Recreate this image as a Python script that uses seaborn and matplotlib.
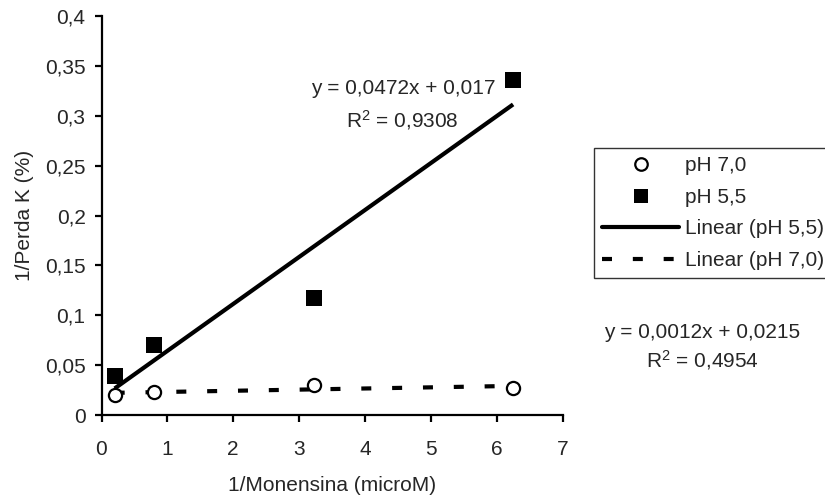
import matplotlib
matplotlib.use("Agg")
import matplotlib.pyplot as plt
from matplotlib.lines import Line2D
import seaborn as sns
import pandas as pd

# ---- data ----
x_monensina = [0.2, 0.8, 3.23, 6.25]
y_ph70 = [0.020, 0.023, 0.030, 0.027]
y_ph55 = [0.039, 0.070, 0.117, 0.336]
x_ticks = [0, 1, 2, 3, 4, 5, 6, 7]
x_tick_labels = ["0", "1", "2", "3", "4", "5", "6", "7"]
y_ticks = [0, 0.05, 0.1, 0.15, 0.2, 0.25, 0.3, 0.35, 0.4]
y_tick_labels = ["0", "0,05", "0,1", "0,15", "0,2", "0,25", "0,3", "0,35", "0,4"]
eq_ph55 = ["y = 0,0472x + 0,017", "R$^2$ = 0,9308"]
eq_ph70 = ["y = 0,0012x + 0,0215", "R$^2$ = 0,4954"]
x_label = "1/Monensina (microM)"
y_label = "1/Perda K (%)"
legend_labels = ["pH 7,0", "pH 5,5", "Linear (pH 5,5)", "Linear (pH 7,0)"]

df70 = pd.DataFrame({"x": x_monensina, "y": y_ph70})
df55 = pd.DataFrame({"x": x_monensina, "y": y_ph55})

sns.set_style("ticks")
plt.rcParams["font.family"] = ["Liberation Sans", "DejaVu Sans"]
plt.rcParams["mathtext.fontset"] = "custom"
plt.rcParams["mathtext.rm"] = "Liberation Sans"
plt.rcParams["mathtext.default"] = "regular"
FS = 15
plt.rcParams["font.size"] = FS

fig = plt.figure(figsize=(8.25, 4.98), dpi=100)
L, R, T, B = 101.5, 562.5, 16, 415
ax = fig.add_axes([L / 825, 1 - B / 498, (R - L) / 825, (B - T) / 498])

dash = (0, (2.4, 5))
sns.regplot(data=df55, x="x", y="y", ax=ax, scatter=False, ci=None, truncate=True,
            line_kws=dict(color="black", lw=3, solid_capstyle="butt", zorder=2))
sns.regplot(data=df70, x="x", y="y", ax=ax, scatter=False, ci=None, truncate=True,
            line_kws=dict(color="black", lw=3, linestyle=dash, dash_capstyle="butt", zorder=2))
sns.scatterplot(data=df55, x="x", y="y", ax=ax, marker="s", s=125, color="black",
                edgecolor="black", linewidth=0, zorder=3)
sns.scatterplot(data=df70, x="x", y="y", ax=ax, marker="o", s=90, facecolor="white",
                edgecolor="black", linewidth=1.6, zorder=3)

ax.set_xlim(0, 7)
ax.set_ylim(0, 0.4)
ax.set_xticks(x_ticks)
ax.set_xticklabels(x_tick_labels)
ax.set_yticks(y_ticks)
ax.set_yticklabels(y_tick_labels)
ax.set_xlabel(x_label, labelpad=12.5)
ax.set_ylabel(y_label, labelpad=8)
for s in ["top", "right"]:
    ax.spines[s].set_visible(False)
for s in ["left", "bottom"]:
    ax.spines[s].set_linewidth(1.6)
    ax.spines[s].set_color("black")
ax.tick_params(axis="both", direction="out", length=5, width=1.6, color="black",
               labelsize=FS)
ax.tick_params(axis="x", pad=13)
ax.tick_params(axis="y", pad=6.5)

# equations
fig.text(403 / 825, 1 - 89 / 498, eq_ph55[0], ha="center", va="center", fontsize=FS)
fig.text(402 / 825, 1 - 120 / 498, eq_ph55[1], ha="center", va="center", fontsize=FS)
fig.text(702 / 825, 1 - 333 / 498, eq_ph70[0], ha="center", va="center", fontsize=FS)
fig.text(702 / 825, 1 - 360 / 498, eq_ph70[1], ha="center", va="center", fontsize=FS)

handles = [
    Line2D([], [], linestyle="none", marker="o", markersize=9, markerfacecolor="white",
           markeredgecolor="black", markeredgewidth=1.6),
    Line2D([], [], linestyle="none", marker="s", markersize=10.5, markerfacecolor="black",
           markeredgecolor="black", markeredgewidth=0),
    Line2D([], [], color="black", lw=3),
    Line2D([], [], color="black", lw=3, linestyle=dash),
]
leg = fig.legend(handles, legend_labels, loc="upper left", bbox_to_anchor=(594 / 825, 1 - 148 / 498),
                 bbox_transform=fig.transFigure, borderaxespad=0, frameon=True, fancybox=False,
                 handlelength=3.7, handletextpad=0.25, borderpad=0.4, labelspacing=0.6,
                 fontsize=FS)
leg.get_frame().set_edgecolor("black")
leg.get_frame().set_linewidth(1.0)

fig.savefig("out.png", dpi=100)
